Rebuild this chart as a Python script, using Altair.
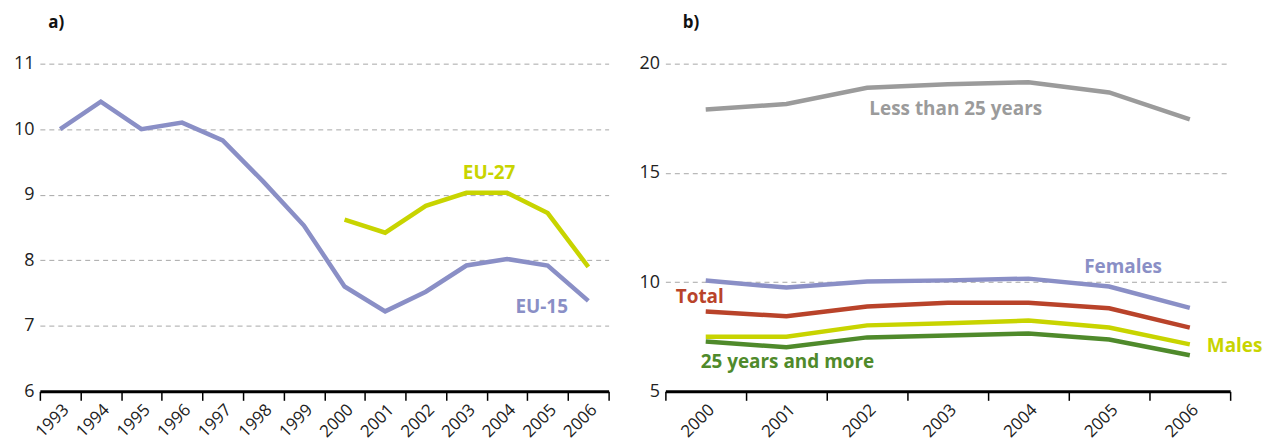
import altair as alt
import pandas as pd

# ---------- data, panel a ----------
years_a = [1993, 1994, 1995, 1996, 1997, 1998, 1999, 2000, 2001, 2002, 2003, 2004, 2005, 2006]
eu15 = [10.0, 10.42, 10.0, 10.1, 9.83, 9.2, 8.53, 7.6, 7.22, 7.52, 7.92, 8.02, 7.92, 7.38]
years_eu27 = [2000, 2001, 2002, 2003, 2004, 2005, 2006]
eu27 = [8.62, 8.42, 8.83, 9.03, 9.03, 8.72, 7.9]

# ---------- data, panel b ----------
years_b = [2000, 2001, 2002, 2003, 2004, 2005, 2006]
less25 = [17.9, 18.15, 18.9, 19.06, 19.15, 18.68, 17.45]
females = [10.07, 9.75, 10.03, 10.08, 10.16, 9.8, 8.82]
total = [8.65, 8.44, 8.88, 9.06, 9.06, 8.8, 7.92]
males = [7.5, 7.5, 8.02, 8.12, 8.24, 7.92, 7.15]
over25 = [7.28, 7.02, 7.47, 7.56, 7.65, 7.37, 6.65]

colors_a = {"EU-15": "#8a8fc6", "EU-27": "#c8d400"}
colors_b = {"Less than 25 years": "#9b9b9b", "Females": "#8a8fc6", "Total": "#b9432a",
            "Males": "#c8d400", "25 years and more": "#4f8a2b"}

FONT = "Open Sans"

df_a = pd.concat([
    pd.DataFrame({"year": years_a, "value": eu15, "series": "EU-15"}),
    pd.DataFrame({"year": years_eu27, "value": eu27, "series": "EU-27"}),
])
df_b = pd.concat([
    pd.DataFrame({"year": years_b, "value": v, "series": s})
    for s, v in [("Less than 25 years", less25), ("Females", females), ("Total", total),
                 ("Males", males), ("25 years and more", over25)]
])

# annotation anchors (series name, year, value, horizontal nudge)
ann_a = [("EU-27", 2004, 9.33, -18), ("EU-15", 2005, 7.29, -6)]
ann_b = [("Less than 25 years", 2003, 17.94, 8), ("Females", 2005, 10.67, 14),
         ("Total", 2000, 9.34, -6), ("Males", 2006, 7.06, 45),
         ("25 years and more", 2001, 6.33, 1)]


def xenc(years):
    return alt.X("year:O", scale=alt.Scale(type="band", domain=years, paddingInner=0, paddingOuter=0),
                 axis=alt.Axis(title=None, labelAngle=-45, tickBand="extent", domainColor="black",
                               domainWidth=3, tickColor="black", tickSize=9, tickWidth=1.5,
                               labelFontSize=17, labelColor="#222", labelPadding=1, grid=False))


def yenc(domain, values):
    return alt.Y("value:Q", scale=alt.Scale(domain=domain, nice=False, zero=False),
                 axis=alt.Axis(title=None, values=values, domain=False, ticks=False, tickSize=0,
                               labelFontSize=18, labelColor="#222", labelPadding=6,
                               gridDash=[5, 4], gridColor="#a6a6a6", gridWidth=1))


def panel(df, years, colors, ann, domain, values, title, tdx, width):
    lines = alt.Chart(df).mark_line(strokeWidth=4.5).encode(
        x=xenc(years), y=yenc(domain, values),
        color=alt.Color("series:N", scale=alt.Scale(domain=list(colors), range=list(colors.values())),
                        legend=None),
        detail="series:N",
    )
    layers = [lines]
    for name, yr, val, dx in ann:
        t = alt.Chart(pd.DataFrame({"year": [yr], "value": [val], "label": [name]})).mark_text(
            font=FONT, fontSize=19, fontWeight="bold", dx=dx, color=colors[name]
        ).encode(x=xenc(years), y=yenc(domain, values), text="label:N")
        layers.append(t)
    return alt.layer(*layers).properties(
        width=width, height=329,
        title=alt.TitleParams(title, anchor="start", dx=tdx, fontSize=17, fontWeight="bold",
                              font=FONT, offset=23, color="#111"),
    )


a = panel(df_a, years_a, colors_a, ann_a, [6, 11], [6, 7, 8, 9, 10, 11], "a)", 35, 571)
b = panel(df_b, years_b, colors_b, ann_b, [5, 20], [5, 10, 15, 20], "b)", 44, 567)

chart = (alt.hconcat(a, b, spacing=29)
         .resolve_scale(color="independent")
         .configure(font=FONT).configure_view(stroke=None))
chart.save("out.html", embed_options={"renderer": "svg", "actions": False})
